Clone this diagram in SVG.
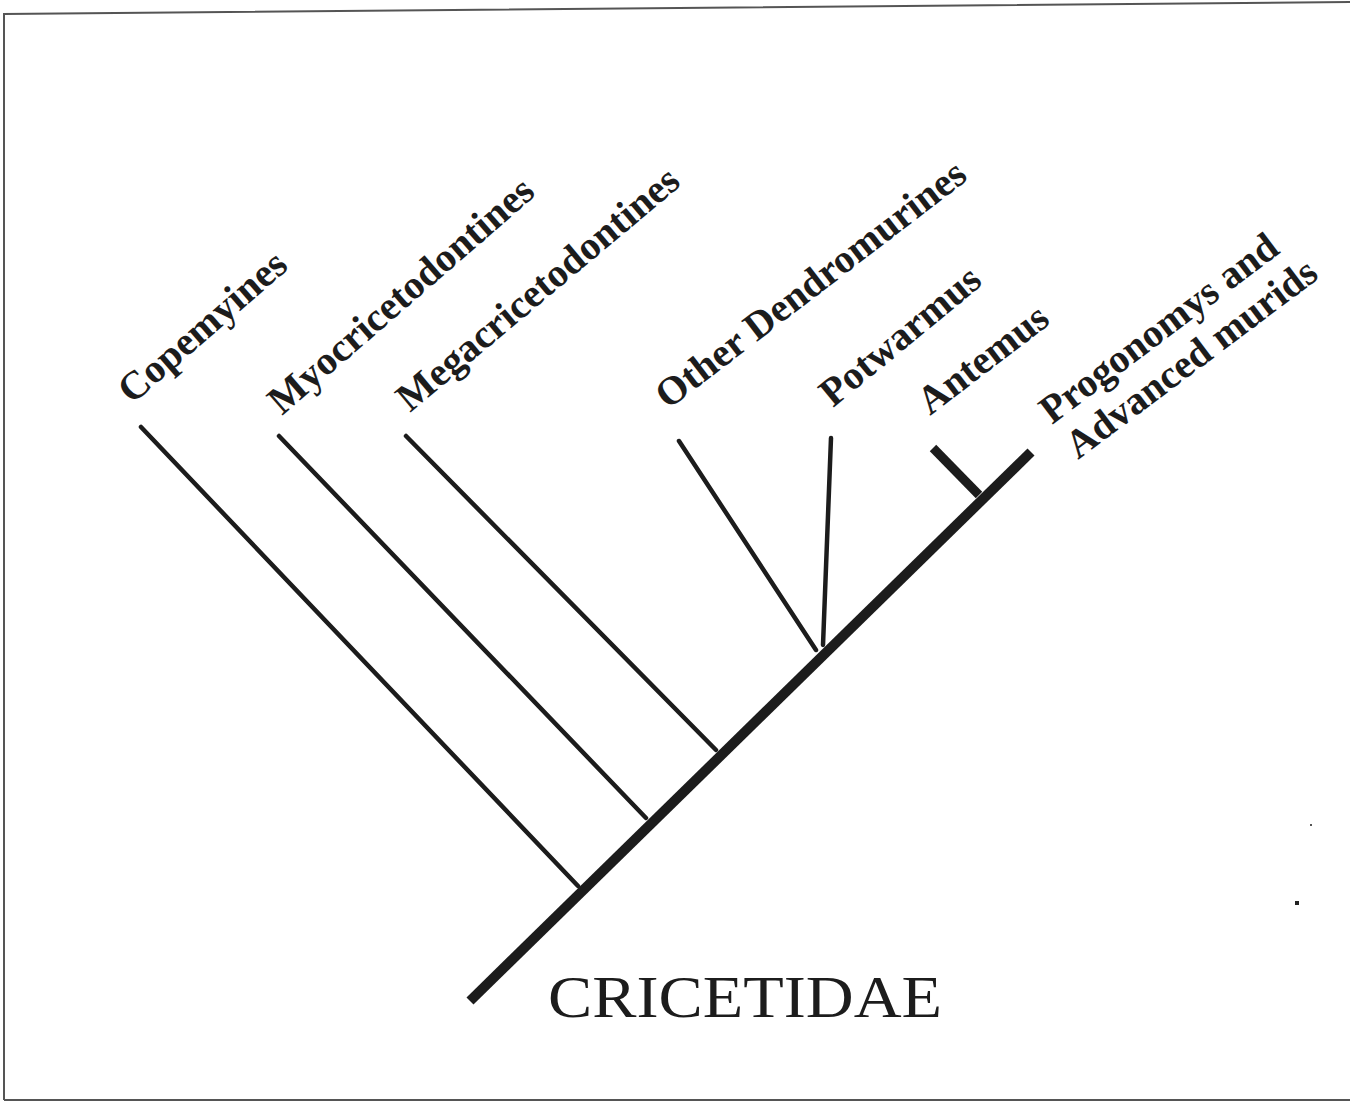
<svg xmlns="http://www.w3.org/2000/svg" width="1350" height="1104" viewBox="0 0 1350 1104">
  <style>
    .frame { stroke: #555; stroke-width: 2; fill: none; }
    .branch { stroke: #1c1c1c; stroke-width: 4.5; stroke-linecap: round; fill: none; }
    .thick { stroke: #1c1c1c; stroke-width: 9; stroke-linecap: butt; fill: none; }
    .trunk { stroke: #1c1c1c; stroke-width: 10; stroke-linecap: butt; fill: none; }
    .taxon { font-family: "Liberation Serif", "Times New Roman", serif; font-weight: bold; font-size: 40px; fill: #1c1c1c; }
    .family { font-family: "Liberation Serif", "Times New Roman", serif; font-size: 60px; fill: #1c1c1c; }
  </style>
  <rect width="1350" height="1104" fill="#fff"/>

  <!-- page frame -->
  <g id="frame">
    <path class="frame" d="M4 1100 L4 14 L1350 2"/>
    <path class="frame" d="M4 1100 L1350 1100" stroke="#999"/>
  </g>

  <!-- tree branches -->
  <g id="connectors">
    <line class="trunk" x1="470" y1="1001" x2="1031" y2="452"/>
    <line class="branch" x1="141" y1="427" x2="578" y2="886"/>
    <line class="branch" x1="279" y1="436" x2="646" y2="818" stroke-width="5"/>
    <line class="branch" x1="406" y1="436" x2="716" y2="750"/>
    <line class="branch" x1="679" y1="441" x2="816" y2="650"/>
    <line class="branch" x1="831" y1="438" x2="823" y2="645" stroke-width="5.5"/>
    <line class="thick" x1="933" y1="448" x2="979" y2="495"/>
  </g>

  <!-- taxon labels -->
  <g id="copemyines"><text class="taxon" transform="translate(132 405) rotate(-41)">Copemyines</text></g>
  <g id="myocricetodontines"><text class="taxon" transform="translate(282 416) rotate(-41)">Myocricetodontines</text></g>
  <g id="megacricetodontines"><text class="taxon" transform="translate(410 413) rotate(-40)">Megacricetodontines</text></g>
  <g id="other-dendromurines"><text class="taxon" transform="translate(668 410) rotate(-37.5)">Other Dendromurines</text></g>
  <g id="potwarmus"><text class="taxon" transform="translate(833 408) rotate(-39.5)">Potwarmus</text></g>
  <g id="antemus"><text class="taxon" transform="translate(930 416) rotate(-37.5)">Antemus</text></g>
  <g id="progonomys">
    <text class="taxon" transform="translate(1052 425) rotate(-37)">Progonomys and</text>
    <text class="taxon" transform="translate(1078 460) rotate(-37)">Advanced murids</text>
  </g>

  <!-- family name -->
  <g id="cricetidae"><text class="family" x="548" y="1017" textLength="394" lengthAdjust="spacingAndGlyphs">CRICETIDAE</text></g>

  <!-- specks -->
  <rect x="1295" y="901" width="4" height="4" fill="#222"/>
  <rect x="1310" y="824" width="2" height="2" fill="#555"/>
</svg>
